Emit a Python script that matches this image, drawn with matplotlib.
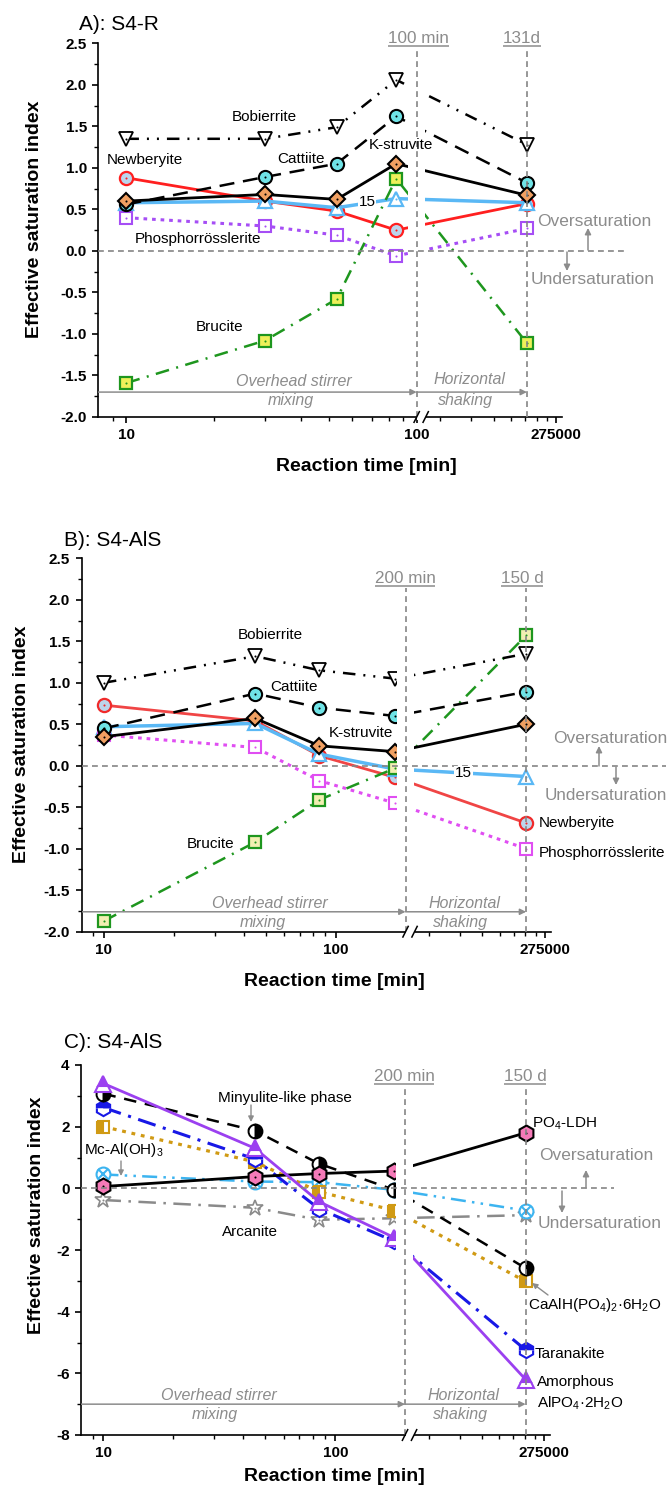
import numpy as np
import matplotlib
matplotlib.use('Agg')
import matplotlib.pyplot as plt
import matplotlib.transforms as mtransforms
from matplotlib.lines import Line2D
from matplotlib.patches import Rectangle, FancyArrowPatch

plt.rcParams['font.family'] = ['Liberation Sans', 'DejaVu Sans']
plt.rcParams['mathtext.fontset'] = 'custom'
plt.rcParams['mathtext.rm'] = 'Liberation Sans'
plt.rcParams['mathtext.it'] = 'Liberation Sans:italic'
plt.rcParams['mathtext.bf'] = 'Liberation Sans:bold'
plt.rcParams['lines.solid_capstyle'] = 'butt'

W, H = 670, 1487
fig = plt.figure(figsize=(W / 100, H / 100), dpi=100)
TL = mtransforms.Affine2D().scale(1 / W, -1 / H).translate(0, 1) + fig.transFigure
ID = mtransforms.IdentityTransform()

# ---------------- data ----------------
time_A = [10, 30, 53, 85, 188640]        # min (last point = 131 d)
time_BC = [10, 45, 85, 180, 216000]      # min (last point = 150 d)
x_ticks = [10, 100, 275000]
x_tick_labels = ['10', '100', '275000']

A_newberyite = [0.88, 0.60, 0.48, 0.25, 0.57]
A_15 = [0.58, 0.60, 0.52, 0.63, 0.58]
A_phosphor = [0.40, 0.30, 0.19, -0.06, 0.27]
A_brucite = [-1.59, -1.08, -0.58, 0.87, -1.11]
A_bobierrite = [1.35, 1.35, 1.49, 2.06, 1.28]
A_cattiite = [0.56, 0.89, 1.05, 1.62, 0.82]
A_kstruvite = [0.60, 0.68, 0.62, 1.05, 0.67]

B_newberyite = [0.73, 0.54, 0.12, -0.14, -0.69]
B_15 = [0.47, 0.51, 0.14, -0.04, -0.13]
B_phosphor = [0.37, 0.22, -0.18, -0.45, -1.00]
B_brucite = [-1.87, -0.92, -0.41, -0.03, 1.57]
B_bobierrite = [1.00, 1.32, 1.15, 1.05, 1.35]
B_cattiite = [0.45, 0.87, 0.70, 0.60, 0.89]
B_kstruvite = [0.35, 0.57, 0.24, 0.17, 0.50]

C_arcanite = [-0.38, -0.63, -1.02, -0.97, -0.87]
C_mcal = [0.45, 0.22, 0.20, -0.05, -0.72]
C_caalh = [2.00, 0.86, -0.11, -0.72, -3.02]
C_taranakite = [2.62, 0.95, -0.66, -1.72, -5.24]
C_minyulite = [3.07, 1.87, 0.80, -0.05, -2.59]
C_po4ldh = [0.06, 0.38, 0.48, 0.56, 1.80]
C_amorph = [3.40, 1.30, -0.43, -1.60, -6.20]

yt_AB = [-2.0, -1.5, -1.0, -0.5, 0.0, 0.5, 1.0, 1.5, 2.0, 2.5]
yt_AB_labels = ['-2.0', '-1.5', '-1.0', '-0.5', '0.0', '0.5', '1.0', '1.5', '2.0', '2.5']
yt_C = [-8, -6, -4, -2, 0, 2, 4]
yt_C_labels = ['-8', '-6', '-4', '-2', '0', '2', '4']

GRAY = '#8c8c8c'
LGRAY = '#858585'
T2 = 45000.0
T_END = 296600.0


def make_scale(tb, r):
    lb, l2 = np.log10(tb), np.log10(T2)

    def fwd(t):
        t = np.asarray(t, dtype=float)
        lt = np.log10(np.clip(t, 1e-12, None))
        return np.where(t <= tb, lt, np.where(t >= T2, lb + r * (lt - l2), lb))

    def inv(u):
        u = np.asarray(u, dtype=float)
        return np.where(u <= lb, 10.0 ** np.minimum(u, lb),
                        T2 * 10.0 ** ((np.maximum(u, lb) - lb) / r))
    return fwd, inv


def setup_axes(box, tb, r, ylim, yt, ytl, yminor):
    l, rg, t, b = box
    ax = fig.add_axes([l / W, 1 - b / H, (rg - l) / W, (b - t) / H])
    fwd, inv = make_scale(tb, r)
    ax.set_xscale('function', functions=(fwd, inv))
    ax.set_xlim(8, T_END)
    ax.set_ylim(*ylim)
    for s in ('top', 'right'):
        ax.spines[s].set_visible(False)
    for s in ('left', 'bottom'):
        ax.spines[s].set_linewidth(1.2)
    a = 275000 / 9
    minors = [9] + list(range(20, 100, 10)) + [k * a for k in range(2, 9)]
    ax.set_xticks(x_ticks, labels=x_tick_labels, fontsize=11, fontweight='bold')
    ax.set_xticks(minors, minor=True)
    ax.set_yticks(yt, labels=ytl, fontsize=11, fontweight='bold')
    ax.set_yticks(yminor, minor=True)
    ax.tick_params(which='major', direction='out', length=4.5, width=1.2, pad=3.7)
    ax.tick_params(which='minor', direction='out', length=2.8, width=1.0)
    ax.patch.set_alpha(0)
    return ax


def series(ax, t, y, st, z=3, dot=True):
    ax.plot(t, y, zorder=z, **st)
    if dot:
        ax.plot(t, y, ls='none', marker='o', ms=1.5, mfc=st.get('mec', 'k'),
                mec='none', zorder=z + 0.01)


def ftext(x, y, s, ha='center', va='center', **kw):
    return fig.text(x, y, s, transform=TL, ha=ha, va=va, **kw)


def farrow(p0, p1, ms=9, lw=1.1):
    fig.add_artist(FancyArrowPatch(p0, p1, transform=TL, arrowstyle='-|>',
                                   mutation_scale=ms, color=GRAY, lw=lw,
                                   shrinkA=0, shrinkB=0))


def decorate(ax, tb, tend, ybar, vtop_frac, zero_ext, txt_mix, txt_shake):
    # white gap in data lines at the axis break
    xb = ax.transData.transform((tb, 0))[0]
    bb = ax.bbox
    ax.add_patch(Rectangle((xb - 9, bb.y0 + 1.5), 17, bb.height - 1.5, transform=ID,
                           fc='white', ec='none', zorder=4))
    # vertical reference lines
    for tv in (tb, tend):
        ax.axvline(tv, 0, vtop_frac, color=LGRAY, lw=1.2, ls=(0, (3.5, 2.5)),
                   zorder=4.6, clip_on=False)
    # zero line
    ax.plot([0, zero_ext], [0, 0], transform=ax.get_yaxis_transform(), color=LGRAY,
            lw=1.2, ls=(0, (3.5, 2.5)), zorder=4.5, clip_on=False)
    # process arrows
    for p0, p1 in (((8, ybar), (tb, ybar)), ((tb, ybar), (tend, ybar))):
        ax.add_patch(FancyArrowPatch(p0, p1, transform=ax.transData, arrowstyle='-|>',
                                     mutation_scale=9, color=GRAY, lw=1.1,
                                     shrinkA=0, shrinkB=0, zorder=6))
    # axis break marks
    y0 = bb.y0
    fig.add_artist(Rectangle((xb + 0.5, y0 - 3), 8.5, 6, transform=ID, fc='white', ec='none'))
    for xo in (xb, xb + 9):
        fig.add_artist(Line2D([xo - 3, xo + 3], [y0 - 6, y0 + 6], transform=ID,
                              color='black', lw=1.1))
    for (s, x, y) in txt_mix + txt_shake:
        ftext(x, y, s, color=GRAY, fontsize=11.5, style='italic')


def underlined(x, ybase, s):
    t = ftext(x, ybase, s, va='baseline', color=GRAY, fontsize=12.3)
    return t


# ---------------- Panel A ----------------
axA = setup_axes((98.3, 561.7, 43.3, 417.0), 100, 0.61, (-2.0, 2.5), yt_AB, yt_AB_labels,
                 np.arange(-2.0, 2.51, 0.25))
stA = [
    (A_newberyite, dict(color='#ff1f1f', ls='-', lw=2.0, marker='o', ms=9.5, mfc='#bcd5ec', mec='#ff1f1f', mew=1.6)),
    (A_15, dict(color='#5ab8f5', ls='-', lw=2.5, marker='^', ms=10.5, mfc='white', mec='#5ab8f5', mew=1.6)),
    (A_phosphor, dict(color='#a64ef5', ls=(0, (1.2, 1.6)), lw=2.2, marker='s', ms=8, mfc='white', mec='#a64ef5', mew=1.5)),
    (A_brucite, dict(color='#1e961e', ls=(0, (5.5, 3, 0.8, 3)), lw=1.8, marker='s', ms=8, mfc='#eef05a', mec='#1e961e', mew=1.6)),
    (A_bobierrite, dict(color='black', ls=(0, (5, 3.2, 0.8, 3.2, 0.8, 3.2)), lw=1.8, marker='v', ms=10.5, mfc='white', mec='black', mew=1.3)),
    (A_cattiite, dict(color='black', ls=(0, (6, 3.5)), lw=1.8, marker='o', ms=9.5, mfc='#6fe3e6', mec='black', mew=1.5)),
    (A_kstruvite, dict(color='black', ls='-', lw=2.0, marker='D', ms=8.5, mfc='#f0a062', mec='black', mew=1.5)),
]
for i, (y, st) in enumerate(stA):
    series(axA, time_A, y, st, z=3 + i * 0.05)
decorate(axA, 100, 188640, -1.70, 0.99, 1.137,
         [('Overhead stirrer', 294, 381.7), ('mixing', 291, 400)],
         [('Horizontal', 469, 380), ('shaking', 465.7, 400)])

# ---------------- Panel B ----------------
axB = setup_axes((81.5, 550.5, 558.3, 931.7), 200, 0.7636, (-2.0, 2.5), yt_AB, yt_AB_labels,
                 np.arange(-2.0, 2.51, 0.25))
stB = [
    (B_newberyite, dict(color='#f04545', ls='-', lw=2.0, marker='o', ms=9.5, mfc='#bcd5ec', mec='#f02a2a', mew=1.6)),
    (B_15, dict(color='#5ab8f5', ls='-', lw=2.5, marker='^', ms=10.5, mfc='white', mec='#5ab8f5', mew=1.6)),
    (B_phosphor, dict(color='#e04ef2', ls=(0, (1.2, 1.6)), lw=2.2, marker='s', ms=8, mfc='white', mec='#e04ef2', mew=1.5)),
    (B_brucite, dict(color='#1e961e', ls=(0, (5.5, 3, 0.8, 3)), lw=1.8, marker='s', ms=8, mfc='#f2efb2', mec='#1e961e', mew=1.6)),
    (B_bobierrite, dict(color='black', ls=(0, (5, 3.2, 0.8, 3.2, 0.8, 3.2)), lw=1.8, marker='v', ms=10.5, mfc='white', mec='black', mew=1.3)),
    (B_cattiite, dict(color='black', ls=(0, (6, 3.5)), lw=1.8, marker='o', ms=9.5, mfc='#6fe3e6', mec='black', mew=1.5)),
    (B_kstruvite, dict(color='black', ls='-', lw=2.0, marker='D', ms=8.5, mfc='#f0a062', mec='black', mew=1.5)),
]
for i, (y, st) in enumerate(stB):
    series(axB, time_BC, y, st, z=3 + i * 0.05)
decorate(axB, 200, 216000, -1.76, 0.92, 1.246,
         [('Overhead stirrer', 270, 903.3), ('mixing', 263, 922.7)],
         [('Horizontal', 464, 903), ('shaking', 460, 922.7)])

# ---------------- Panel C ----------------
axC = setup_axes((81.0, 550.0, 1065.0, 1435.0), 200, 0.7636, (-8, 4), yt_C, yt_C_labels,
                 np.arange(-8, 4.1, 1))
stC = [
    (C_arcanite, dict(color='#8a8a8a', ls=(0, (7, 3, 1, 3)), lw=1.8, marker='*', ms=12, mfc='white', mec='#8a8a8a', mew=1.2)),
    (C_mcal, dict(color='#3cb4f0', ls=(0, (6, 2.5, 1, 2.5, 1, 2.5)), lw=1.8, marker='o', ms=10, mfc='white', mec='#3cb4f0', mew=1.5)),
    (C_caalh, dict(color='#d09a14', ls=(0, (1.2, 1.8)), lw=2.3, marker='s', ms=8.5, mfc='#d09a14', mfcalt='white', fillstyle='left', mec='#d09a14', mew=1.5)),
    (C_taranakite, dict(color='#1818e6', ls=(0, (6, 2.5, 1, 2.5)), lw=2.2, marker='h', ms=11, mfc='#1818e6', mfcalt='white', fillstyle='top', mec='#1818e6', mew=1.5)),
    (C_minyulite, dict(color='black', ls=(0, (5, 3.5)), lw=1.8, marker='o', ms=10, mfc='black', mfcalt='white', fillstyle='right', mec='black', mew=1.4)),
    (C_po4ldh, dict(color='black', ls='-', lw=2.0, marker='h', ms=11.5, mfc='#f57ab8', mec='black', mew=1.5)),
    (C_amorph, dict(color='#9b40f0', ls='-', lw=2.0, marker='^', ms=11.5, mfc='#9b40f0', mfcalt='white', fillstyle='top', mec='#9b40f0', mew=1.5)),
]
for i, (y, st) in enumerate(stC):
    series(axC, time_BC, y, st, z=3 + i * 0.05, dot=(i in (0, 5)))
    if i == 1:
        axC.plot(time_BC, y, ls='none', marker='x', ms=6.5, mec='#3cb4f0', mew=1.5, zorder=3.06)
decorate(axC, 200, 216000, -7.0, 0.94, 1.136,
         [('Overhead stirrer', 219, 1395), ('mixing', 215, 1414)],
         [('Horizontal', 463.6, 1395), ('shaking', 460, 1414)])

# ---------------- texts ----------------
LBL = dict(fontsize=11, color='black')
# titles
ftext(79, 25, 'A): S4-R', ha='left', fontsize=15)
ftext(64, 540, 'B): S4-AlS', ha='left', fontsize=15)
ftext(64, 1043, 'C): S4-AlS', ha='left', fontsize=15)

# axis labels
for (x, y) in ((35, 219), (22, 744), (37, 1215)):
    ftext(x, y, 'Effective saturation index', rotation=90, fontsize=14, fontweight='bold')
for (x, y) in ((366, 466.7), (334, 981.7), (334, 1476.7)):
    ftext(x, y, 'Reaction time [min]', fontsize=14, fontweight='bold')

# time labels (underlined)
under = [underlined(418.5, 43, '100 min'), underlined(522, 43, '131d'),
         underlined(405, 583, '200 min'), underlined(522, 583, '150 d'),
         underlined(404, 1081, '200 min'), underlined(525, 1081, '150 d')]

# panel A labels
ftext(264.5, 116.7, 'Bobierrite', **LBL)
ftext(144.5, 160, 'Newberyite', **LBL)
ftext(300.5, 159.3, 'Cattiite', **LBL)
ftext(400.5, 145, 'K-struvite', **LBL)
ftext(367, 201.7, '15', bbox=dict(fc='white', ec='none', pad=0.5), **LBL)
ftext(198, 239.3, 'Phosphorrösslerite', **LBL)
ftext(220, 326.7, 'Brucite', **LBL)
ftext(537, 221.7, 'Oversaturation', ha='left', color=GRAY, fontsize=12.5)
ftext(531, 279.3, 'Undersaturation', ha='left', color=GRAY, fontsize=12.5)
farrow((588, 250), (588, 228))
farrow((567, 252), (567, 271))

# panel B labels
ftext(270.5, 635, 'Bobierrite', **LBL)
ftext(294, 686.7, 'Cattiite', **LBL)
ftext(361, 732.7, 'K-struvite', **LBL)
ftext(463.5, 773.3, '15', bbox=dict(fc='white', ec='none', pad=0.5), **LBL)
ftext(539, 823.3, 'Newberyite', ha='left', **LBL)
ftext(539, 853.3, 'Phosphorrösslerite', ha='left', **LBL)
ftext(210.7, 844, 'Brucite', **LBL)
ftext(553, 738.3, 'Oversaturation', ha='left', color=GRAY, fontsize=12.5)
ftext(545, 795, 'Undersaturation', ha='left', color=GRAY, fontsize=12.3)
farrow((599, 766), (599, 746))
farrow((616, 767), (616, 785))

# panel C labels
ftext(285, 1098.3, 'Minyulite-like phase', **LBL)
farrow((251, 1105), (251, 1122), ms=8, lw=1.0)
ftext(84, 1150, 'Mc-Al(OH)$_3$', ha='left', **LBL)
farrow((121, 1161), (121, 1176), ms=8, lw=1.0)
ftext(532, 1123.3, 'PO$_4$-LDH', ha='left', **LBL)
ftext(250, 1231.7, 'Arcanite', **LBL)
ftext(528, 1305, 'CaAlH(PO$_4$)$_2$·6H$_2$O', ha='left', **LBL)
farrow((548, 1295), (532, 1283), ms=8, lw=1.0)
ftext(535, 1354.3, 'Taranakite', ha='left', **LBL)
ftext(537, 1381.7, 'Amorphous', ha='left', **LBL)
ftext(537, 1403.3, 'AlPO$_4$·2H$_2$O', ha='left', **LBL)
ftext(539.6, 1155, 'Oversaturation', ha='left', color=GRAY, fontsize=12.5)
ftext(538, 1223, 'Undersaturation', ha='left', color=GRAY, fontsize=12.5)
farrow((586, 1188), (586, 1170))
farrow((562, 1191), (562, 1213))

# underlines for time labels
fig.canvas.draw()
rend = fig.canvas.get_renderer()
for t in under:
    bb = t.get_window_extent(rend)
    xb, yb = t.get_transform().transform(t.get_position())
    fig.add_artist(Line2D([bb.x0, bb.x1], [yb - 2.5, yb - 2.5], transform=ID,
                          color=GRAY, lw=1.1))

fig.savefig('out.png', dpi=100)
